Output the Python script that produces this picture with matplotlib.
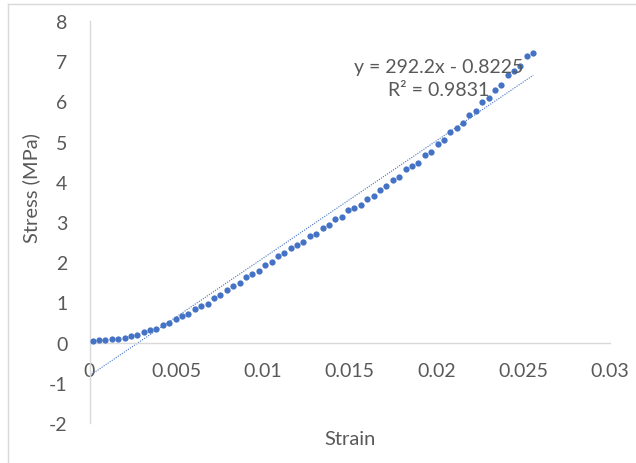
import matplotlib
matplotlib.use("Agg")
import matplotlib.pyplot as plt
from matplotlib.lines import Line2D
import numpy as np

# ---- data ----
strain = [0.00018, 0.00055, 0.00092, 0.00129, 0.00166, 0.00202, 0.00239, 0.00276,
          0.00313, 0.00350, 0.00386, 0.00423, 0.00460, 0.00497, 0.00534, 0.00570,
          0.00607, 0.00644, 0.00681, 0.00718, 0.00754, 0.00791, 0.00828, 0.00865,
          0.00902, 0.00938, 0.00975, 0.01012, 0.01049, 0.01086, 0.01122, 0.01159,
          0.01196, 0.01233, 0.01270, 0.01306, 0.01343, 0.01380, 0.01417, 0.01454,
          0.01490, 0.01527, 0.01564, 0.01601, 0.01638, 0.01674, 0.01711, 0.01748,
          0.01785, 0.01822, 0.01858, 0.01895, 0.01932, 0.01969, 0.02006, 0.02042,
          0.02079, 0.02116, 0.02153, 0.02190, 0.02226, 0.02263, 0.02300, 0.02337,
          0.02374, 0.02410, 0.02447, 0.02484, 0.02521, 0.02558]
stress = [0.03, 0.06, 0.07, 0.08, 0.10, 0.12, 0.17, 0.20, 0.27, 0.31,
          0.35, 0.43, 0.48, 0.58, 0.65, 0.71, 0.83, 0.90, 0.96, 1.11,
          1.19, 1.32, 1.40, 1.48, 1.63, 1.71, 1.78, 1.92, 2.00, 2.16,
          2.22, 2.36, 2.44, 2.50, 2.64, 2.71, 2.86, 2.93, 3.08, 3.13,
          3.29, 3.35, 3.43, 3.57, 3.65, 3.80, 3.90, 4.05, 4.13, 4.32,
          4.40, 4.48, 4.67, 4.75, 4.95, 5.03, 5.24, 5.33, 5.46, 5.65,
          5.76, 5.99, 6.09, 6.29, 6.41, 6.66, 6.76, 6.87, 7.12, 7.21]
slope = 292.2
intercept = -0.8225
r_squared = 0.9831
x_ticks = [0, 0.005, 0.01, 0.015, 0.02, 0.025, 0.03]
x_tick_labels = ["0", "0.005", "0.01", "0.015", "0.02", "0.025", "0.03"]
y_ticks = [-2, -1, 0, 1, 2, 3, 4, 5, 6, 7, 8]
x_title = "Strain"
y_title = "Stress (MPa)"

# ---- styling ----
plt.rcParams['font.family'] = ['Lato', 'DejaVu Sans']
plt.rcParams['axes.unicode_minus'] = False
W, H = 636, 464
fig = plt.figure(figsize=(W / 100, H / 100), dpi=100)
ax = fig.add_axes([89.5 / W, 1 - 424 / H, (610 - 89.5) / W, (424 - 22) / H])

blue = "#4472C4"
grey_txt = "#595959"
grey_line = "#D9D9D9"

ax.plot(strain, stress, linestyle="none", marker="o", ms=4.5,
        color=blue, markeredgewidth=0, zorder=3)

xs = np.array([min(strain) * 0, max(strain)])
ax.plot(xs, slope * xs + intercept, linestyle=(0, (1, 1.2)), color=blue,
        lw=0.8, zorder=2)

ax.set_xlim(0, 0.03)
ax.set_ylim(-2, 8)
ax.set_xticks(x_ticks)
ax.set_xticklabels(x_tick_labels)
ax.set_yticks(y_ticks)

for s in ["top", "right"]:
    ax.spines[s].set_visible(False)
ax.spines["bottom"].set_position(("data", 0))
ax.spines["bottom"].set_color(grey_line)
ax.spines["left"].set_color(grey_line)
ax.spines["bottom"].set_linewidth(1.0)
ax.spines["left"].set_linewidth(1.0)
ax.tick_params(axis="x", length=0, pad=14, labelsize=14, labelcolor=grey_txt)
ax.tick_params(axis="y", length=0, pad=16, labelsize=14, labelcolor=grey_txt)

ax.set_ylabel(y_title, fontsize=14.5, color=grey_txt)
ax.yaxis.set_label_coords((40 - 89.5) / (610 - 89.5), (424 - 188) / (424 - 22))
fig.text(350 / W, 1 - 440 / H, x_title, fontsize=14.5, color=grey_txt,
         ha="center", va="center")

eq = f"y = {slope}x - {abs(intercept)}\nR² = {r_squared}"
fig.text(439 / W, 1 - 79 / H, eq, fontsize=14, color=grey_txt,
         ha="center", va="center", multialignment="center", linespacing=1.5)

# chart border (top and left visible)
fig.add_artist(Line2D([8 / W, 1], [1 - 4.5 / H, 1 - 4.5 / H], color=grey_line, lw=1))
fig.add_artist(Line2D([8 / W, 8 / W], [0, 1 - 4.5 / H], color=grey_line, lw=1))

fig.savefig("out.png", dpi=100, facecolor="white")
